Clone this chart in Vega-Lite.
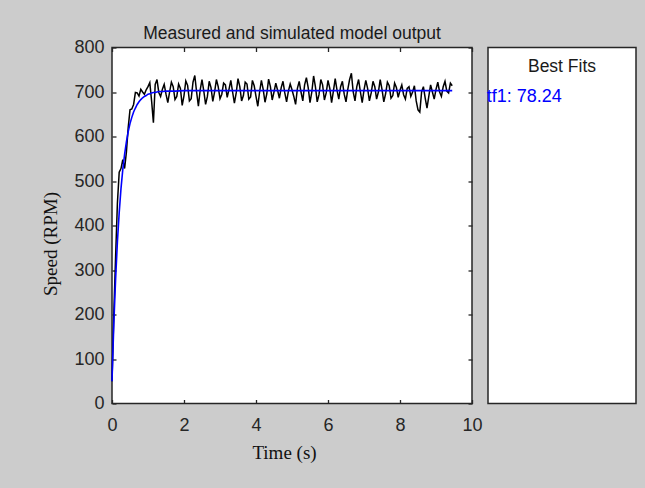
{
  "$schema": "https://vega.github.io/schema/vega-lite/v6.json",
  "background": "#cccccc",
  "padding": {"left": 40, "top": 23.5, "right": 12, "bottom": 28},
  "bounds": "flush",
  "spacing": 16,
  "datasets": {
    "measured": [
      {"time":0,"speed":50},{"time":0.05,"speed":200},{"time":0.1,"speed":330},{"time":0.15,"speed":450},{"time":0.2,"speed":520},
      {"time":0.25,"speed":528},{"time":0.3,"speed":548},{"time":0.35,"speed":528},{"time":0.4,"speed":565},{"time":0.45,"speed":620},
      {"time":0.5,"speed":660},{"time":0.55,"speed":662},{"time":0.6,"speed":672},{"time":0.65,"speed":699},{"time":0.7,"speed":698},
      {"time":0.75,"speed":691},{"time":0.8,"speed":706},{"time":0.85,"speed":700},{"time":0.9,"speed":695},{"time":0.95,"speed":705},
      {"time":1,"speed":712},{"time":1.05,"speed":721},{"time":1.1,"speed":680},{"time":1.15,"speed":631},{"time":1.2,"speed":717},
      {"time":1.25,"speed":728},{"time":1.3,"speed":699},{"time":1.35,"speed":690},{"time":1.4,"speed":706},{"time":1.45,"speed":717},
      {"time":1.5,"speed":695},{"time":1.55,"speed":676},{"time":1.6,"speed":700},{"time":1.65,"speed":722},{"time":1.7,"speed":712},
      {"time":1.75,"speed":683},{"time":1.8,"speed":690},{"time":1.85,"speed":718},{"time":1.9,"speed":708},{"time":1.95,"speed":670},
      {"time":2,"speed":692},{"time":2.05,"speed":725},{"time":2.1,"speed":715},{"time":2.15,"speed":680},{"time":2.2,"speed":685},
      {"time":2.25,"speed":722},{"time":2.3,"speed":737},{"time":2.35,"speed":700},{"time":2.4,"speed":668},{"time":2.45,"speed":705},
      {"time":2.5,"speed":728},{"time":2.55,"speed":702},{"time":2.6,"speed":672},{"time":2.65,"speed":690},{"time":2.7,"speed":724},
      {"time":2.75,"speed":710},{"time":2.8,"speed":679},{"time":2.85,"speed":700},{"time":2.9,"speed":728},{"time":2.95,"speed":712},
      {"time":3,"speed":685},{"time":3.05,"speed":695},{"time":3.1,"speed":720},{"time":3.15,"speed":716},{"time":3.2,"speed":688},
      {"time":3.25,"speed":706},{"time":3.3,"speed":726},{"time":3.35,"speed":700},{"time":3.4,"speed":675},{"time":3.45,"speed":698},
      {"time":3.5,"speed":730},{"time":3.55,"speed":712},{"time":3.6,"speed":680},{"time":3.65,"speed":692},{"time":3.7,"speed":722},
      {"time":3.75,"speed":718},{"time":3.8,"speed":684},{"time":3.85,"speed":689},{"time":3.9,"speed":726},{"time":3.95,"speed":714},
      {"time":4,"speed":690},{"time":4.05,"speed":668},{"time":4.1,"speed":700},{"time":4.15,"speed":726},{"time":4.2,"speed":706},
      {"time":4.25,"speed":677},{"time":4.3,"speed":696},{"time":4.35,"speed":729},{"time":4.4,"speed":712},{"time":4.45,"speed":682},
      {"time":4.5,"speed":700},{"time":4.55,"speed":720},{"time":4.6,"speed":704},{"time":4.65,"speed":686},{"time":4.7,"speed":710},
      {"time":4.75,"speed":724},{"time":4.8,"speed":698},{"time":4.85,"speed":678},{"time":4.9,"speed":702},{"time":4.95,"speed":718},
      {"time":5,"speed":705},{"time":5.05,"speed":690},{"time":5.1,"speed":672},{"time":5.15,"speed":708},{"time":5.2,"speed":724},
      {"time":5.25,"speed":700},{"time":5.3,"speed":680},{"time":5.35,"speed":716},{"time":5.4,"speed":732},{"time":5.45,"speed":710},
      {"time":5.5,"speed":676},{"time":5.55,"speed":700},{"time":5.6,"speed":736},{"time":5.65,"speed":712},{"time":5.7,"speed":678},
      {"time":5.75,"speed":694},{"time":5.8,"speed":728},{"time":5.85,"speed":716},{"time":5.9,"speed":682},{"time":5.95,"speed":698},
      {"time":6,"speed":726},{"time":6.05,"speed":708},{"time":6.1,"speed":676},{"time":6.15,"speed":702},{"time":6.2,"speed":730},
      {"time":6.25,"speed":704},{"time":6.3,"speed":684},{"time":6.35,"speed":712},{"time":6.4,"speed":724},{"time":6.45,"speed":695},
      {"time":6.5,"speed":678},{"time":6.55,"speed":706},{"time":6.6,"speed":728},{"time":6.65,"speed":742},{"time":6.7,"speed":700},
      {"time":6.75,"speed":680},{"time":6.8,"speed":712},{"time":6.85,"speed":728},{"time":6.9,"speed":700},{"time":6.95,"speed":676},
      {"time":7,"speed":704},{"time":7.05,"speed":726},{"time":7.1,"speed":708},{"time":7.15,"speed":680},{"time":7.2,"speed":698},
      {"time":7.25,"speed":724},{"time":7.3,"speed":712},{"time":7.35,"speed":684},{"time":7.4,"speed":700},{"time":7.45,"speed":728},
      {"time":7.5,"speed":706},{"time":7.55,"speed":678},{"time":7.6,"speed":696},{"time":7.65,"speed":722},{"time":7.7,"speed":714},
      {"time":7.75,"speed":686},{"time":7.8,"speed":692},{"time":7.85,"speed":720},{"time":7.9,"speed":710},{"time":7.95,"speed":688},
      {"time":8,"speed":704},{"time":8.05,"speed":716},{"time":8.1,"speed":694},{"time":8.15,"speed":684},{"time":8.2,"speed":708},
      {"time":8.25,"speed":712},{"time":8.3,"speed":690},{"time":8.35,"speed":700},{"time":8.4,"speed":714},{"time":8.45,"speed":680},
      {"time":8.5,"speed":660},{"time":8.55,"speed":655},{"time":8.6,"speed":700},{"time":8.65,"speed":712},{"time":8.7,"speed":686},
      {"time":8.75,"speed":664},{"time":8.8,"speed":690},{"time":8.85,"speed":716},{"time":8.9,"speed":700},{"time":8.95,"speed":684},
      {"time":9,"speed":706},{"time":9.05,"speed":722},{"time":9.1,"speed":700},{"time":9.15,"speed":690},{"time":9.2,"speed":712},
      {"time":9.25,"speed":724},{"time":9.3,"speed":702},{"time":9.35,"speed":698},{"time":9.4,"speed":720},{"time":9.45,"speed":714}
    ],
    "simulated": [
      {"time":0,"speed":50},{"time":0.05,"speed":178},{"time":0.1,"speed":280},{"time":0.15,"speed":363},{"time":0.2,"speed":429},
      {"time":0.25,"speed":483},{"time":0.3,"speed":526},{"time":0.35,"speed":560},{"time":0.4,"speed":588},{"time":0.45,"speed":611},
      {"time":0.5,"speed":629},{"time":0.55,"speed":643},{"time":0.6,"speed":655},{"time":0.65,"speed":664},{"time":0.7,"speed":672},
      {"time":0.75,"speed":678},{"time":0.8,"speed":683},{"time":0.85,"speed":687},{"time":0.9,"speed":690},{"time":0.95,"speed":692},
      {"time":1,"speed":695},{"time":1.05,"speed":696},{"time":1.1,"speed":698},{"time":1.15,"speed":699},{"time":1.2,"speed":699},
      {"time":1.3,"speed":701},{"time":1.4,"speed":701},{"time":1.5,"speed":702},{"time":1.75,"speed":702},{"time":2,"speed":703},
      {"time":9.45,"speed":703}
    ],
    "fits": [
      {"model":"tf1","label":"tf1: 78.24"}
    ]
  },
  "hconcat": [
    {
      "width": 360,
      "height": 356,
      "title": {
        "text": "Measured and simulated model output",
        "font": "Liberation Sans",
        "fontSize": 17.5,
        "fontWeight": "normal",
        "color": "#1a1a1a",
        "baseline": "alphabetic",
        "offset": -17.5,
        "anchor": "middle"
      },
      "layer": [
        {
          "data": {"name": "measured"},
          "mark": {"type": "line", "color": "#000000", "strokeWidth": 1.5},
          "encoding": {
            "x": {
              "field": "time", "type": "quantitative",
              "scale": {"domain": [0, 10], "nice": false, "zero": false},
              "axis": {
                "orient": "bottom", "values": [0, 2, 4, 6, 8, 10],
                "domain": false, "grid": false,
                "tickSize": -4, "tickColor": "#262626", "tickWidth": 1.3,
                "labelPadding": 17, "labelFontSize": 18, "labelFont": "Liberation Sans",
                "labelColor": "#262626", "labelFlush": false,
                "title": "Time (s)", "titleFont": "Liberation Serif", "titleFontSize": 19,
                "titleFontWeight": "normal", "titleColor": "#111111",
                "titleX": 172, "titleY": 54.5, "titleBaseline": "alphabetic", "titleAlign": "center"
              }
            },
            "y": {
              "field": "speed", "type": "quantitative",
              "scale": {"domain": [0, 800], "nice": false, "zero": false},
              "axis": {
                "orient": "left", "values": [0, 100, 200, 300, 400, 500, 600, 700, 800],
                "domain": false, "grid": false,
                "tickSize": -4, "tickColor": "#262626", "tickWidth": 1.3,
                "labelPadding": 12, "labelFontSize": 18, "labelFont": "Liberation Sans",
                "labelColor": "#262626",
                "title": "Speed (RPM)", "titleFont": "Liberation Serif", "titleFontSize": 19,
                "titleFontWeight": "normal", "titleColor": "#111111",
                "titleX": -56, "titleY": 196, "titleBaseline": "alphabetic", "titleAlign": "center", "titleAngle": -90
              }
            }
          }
        },
        {
          "data": {"name": "simulated"},
          "mark": {"type": "line", "color": "#0000ff", "strokeWidth": 1.6},
          "encoding": {
            "x": {
              "field": "time", "type": "quantitative",
              "axis": {
                "orient": "top", "values": [0, 2, 4, 6, 8, 10],
                "domain": false, "grid": false, "labels": false, "title": null,
                "tickSize": -4, "tickColor": "#262626", "tickWidth": 1.3
              }
            },
            "y": {
              "field": "speed", "type": "quantitative",
              "axis": {
                "orient": "right", "values": [0, 100, 200, 300, 400, 500, 600, 700, 800],
                "domain": false, "grid": false, "labels": false, "title": null,
                "tickSize": -4, "tickColor": "#262626", "tickWidth": 1.3
              }
            }
          }
        }
      ],
      "resolve": {"axis": {"x": "independent", "y": "independent"}}
    },
    {
      "width": 148,
      "height": 356,
      "title": {
        "text": "Best Fits",
        "font": "Liberation Sans",
        "fontSize": 17.5,
        "fontWeight": "normal",
        "color": "#1a1a1a",
        "baseline": "alphabetic",
        "offset": -42.4,
        "anchor": "middle"
      },
      "data": {"name": "fits"},
      "mark": {"type": "text", "align": "left", "baseline": "alphabetic", "font": "Liberation Sans", "fontSize": 18, "color": "#0000ff"},
      "encoding": {
        "text": {"field": "label"},
        "x": {"value": -1.3},
        "y": {"value": 54.7}
      }
    }
  ],
  "config": {
    "view": {"stroke": "#262626", "strokeWidth": 1.5, "fill": "#ffffff"}
  }
}
